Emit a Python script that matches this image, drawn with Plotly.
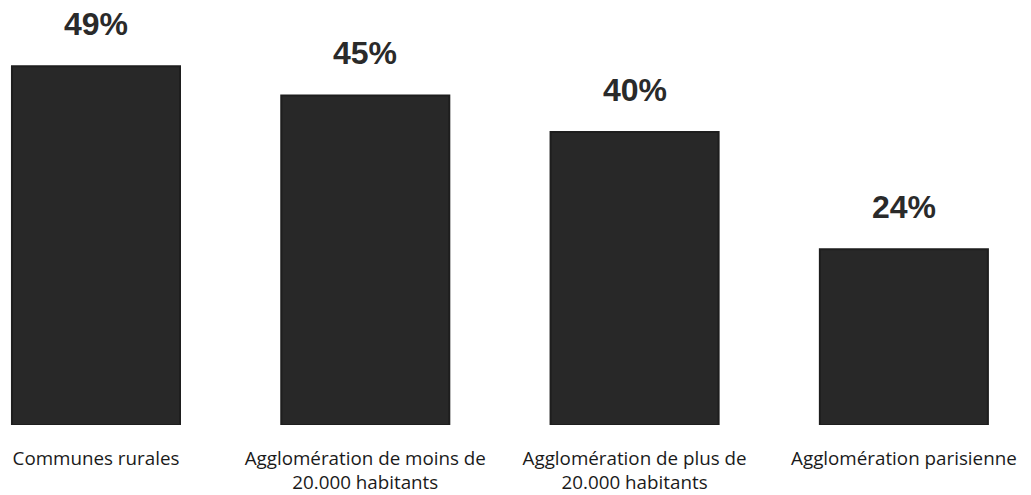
import plotly.graph_objects as go

categories = ["Communes rurales", "Agglomération de moins de<br>20.000 habitants",
              "Agglomération de plus de<br>20.000 habitants", "Agglomération parisienne"]
values = [49, 45, 40, 24]
labels = ["49%", "45%", "40%", "24%"]

x_idx = list(range(len(categories)))

fig = go.Figure()
fig.add_trace(go.Bar(
    x=x_idx, y=values, width=0.624,
    marker=dict(color="#282828", line=dict(color="#1e1e1e", width=2)),
    hoverinfo="skip",
))

for xi, v, t in zip(x_idx, values, labels):
    fig.add_annotation(x=xi, y=v, text="<b>%s</b>" % t, showarrow=False,
                       yanchor="bottom", yshift=22,
                       font=dict(family="Liberation Sans, Arial", size=32, color="#2a2a2a"))

fig.update_layout(
    width=1031, height=495,
    margin=dict(l=0, r=0, t=0, b=65),
    paper_bgcolor="white", plot_bgcolor="white",
    showlegend=False,
    xaxis=dict(range=[-0.3564, 3.472], tickmode="array", tickvals=x_idx, ticktext=categories,
               showgrid=False, zeroline=False, showline=False, ticks="",
               ticklabelstandoff=20,
               tickfont=dict(family="Open Sans", size=18.8, color="#1a1a1a")),
    yaxis=dict(range=[0, 58.04], visible=False, showgrid=False, zeroline=False),
)

fig.write_html("out.html")
